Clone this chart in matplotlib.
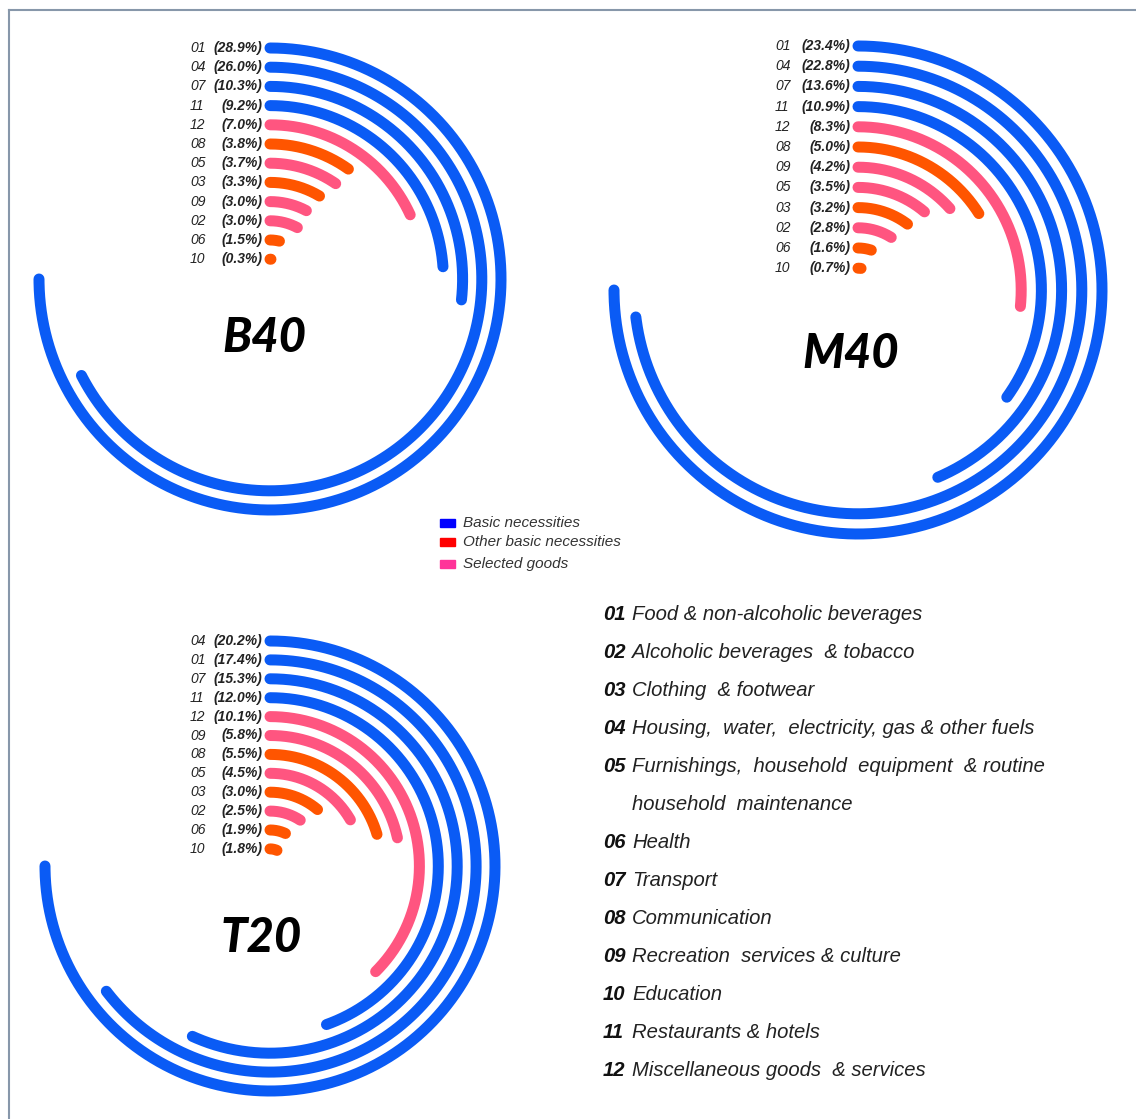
import numpy as np
import matplotlib
matplotlib.use("Agg")
import matplotlib.pyplot as plt
from matplotlib.patches import Rectangle
from matplotlib.transforms import offset_copy
from matplotlib import font_manager as fm
from matplotlib.font_manager import FontProperties

W, H = 1136, 1119

# data, ordered outer -> inner ring
b40_codes = ["01", "04", "07", "11", "12", "08", "05", "03", "09", "02", "06", "10"]
b40_vals = [28.9, 26.0, 10.3, 9.2, 7.0, 3.8, 3.7, 3.3, 3.0, 3.0, 1.5, 0.3]

m40_codes = ["01", "04", "07", "11", "12", "08", "09", "05", "03", "02", "06", "10"]
m40_vals = [23.4, 22.8, 13.6, 10.9, 8.3, 5.0, 4.2, 3.5, 3.2, 2.8, 1.6, 0.7]

t20_codes = ["04", "01", "07", "11", "12", "09", "08", "05", "03", "02", "06", "10"]
t20_vals = [20.2, 17.4, 15.3, 12.0, 10.1, 5.8, 5.5, 4.5, 3.0, 2.5, 1.9, 1.8]

# group of each category code
groups = {"01": "basic", "04": "basic", "07": "basic", "11": "basic",
          "03": "other", "06": "other", "08": "other", "10": "other",
          "02": "selected", "05": "selected", "09": "selected", "12": "selected"}
arc_colors = {"basic": "#0A5BF5", "other": "#FF5500", "selected": "#FF5580"}

legend_labels = ["Basic necessities", "Other basic necessities", "Selected goods"]
legend_colors = ["#0000FF", "#FF0000", "#FF3399"]

cat_codes = ["01", "02", "03", "04", "05", "", "06", "07", "08", "09", "10", "11", "12"]
cat_names = ["Food & non-alcoholic beverages",
             "Alcoholic beverages  & tobacco",
             "Clothing  & footwear",
             "Housing,  water,  electricity, gas & other fuels",
             "Furnishings,  household  equipment  & routine",
             "household  maintenance",
             "Health",
             "Transport",
             "Communication",
             "Recreation  services & culture",
             "Education",
             "Restaurants & hotels",
             "Miscellaneous goods  & services"]


# pick real font files, since not every family has every italic/bold face
def find_font(families, italic, min_weight, max_weight=1000):
    for fam in families:
        best = None
        for f in fm.fontManager.ttflist:
            if f.name != fam:
                continue
            if italic and f.style == "normal":
                continue
            if not italic and f.style != "normal":
                continue
            w = f.weight if isinstance(f.weight, int) else 400
            if min_weight <= w <= max_weight:
                if best is None or w > best[0]:
                    best = (w, f.fname)
        if best:
            return FontProperties(fname=best[1])
    return FontProperties(family="DejaVu Sans", style="italic",
                          weight="bold" if min_weight >= 600 else "normal")


sans = ["Liberation Sans", "Arimo", "Roboto", "Open Sans", "Lato", "Noto Sans", "DejaVu Sans"]
f_it = find_font(sans, True, 300, 500)
f_bi = find_font(sans, True, 600, 800)
f_title = find_font(["Lato", "Roboto", "Inter", "Open Sans", "Noto Sans", "Liberation Sans",
                     "DejaVu Sans"], True, 800)

fig = plt.figure(figsize=(W / 100, H / 100), dpi=100)
lw = 11 * 72 / 100


def fp(base, size):
    p = base.copy()
    p.set_size(size)
    return p


def ring_chart(codes, vals, title, cx, cy, r_out, step, code_dx, title_xy):
    R = r_out + 20
    ax = fig.add_axes([(cx - R) / W, (H - cy - R) / H, 2 * R / W, 2 * R / H],
                      projection="polar")
    ax.set_theta_zero_location("N")
    ax.set_theta_direction(-1)
    ax.set_rlim(0, R)
    ax.axis("off")
    vmax = max(vals)
    pct_tr = offset_copy(ax.transData, fig=fig, x=-8, y=0, units="dots")
    code_tr = offset_copy(ax.transData, fig=fig, x=-code_dx, y=0, units="dots")
    for i, (c, v) in enumerate(zip(codes, vals)):
        r = r_out - i * step
        th = np.linspace(0, v / vmax * 1.5 * np.pi, 300)
        ax.plot(th, np.full_like(th, r), color=arc_colors[groups[c]], lw=lw,
                solid_capstyle="round")
        ax.text(0, r, f"({v:.1f}%)", transform=pct_tr, ha="right", va="center",
                fontproperties=fp(f_bi, 10), color="#222222")
        ax.text(0, r, c, transform=code_tr, ha="left", va="center",
                fontproperties=fp(f_it, 10), color="#222222")
    fig.text(title_xy[0] / W, 1 - title_xy[1] / H, title, ha="center", va="center",
             fontproperties=fp(f_title, 34), color="black")


ring_chart(b40_codes, b40_vals, "B40", 270, 279, 231, 19.2, 80, (264, 338))
ring_chart(m40_codes, m40_vals, "M40", 858, 290, 244, 20.2, 83, (851, 354))
ring_chart(t20_codes, t20_vals, "T20", 270, 866, 225, 18.9, 80, (261, 938))

# overlay in pixel coordinates
ov = fig.add_axes([0, 0, 1, 1])
ov.set_xlim(0, W)
ov.set_ylim(H, 0)
ov.axis("off")
ov.patch.set_alpha(0)

# frame lines
ov.plot([8.5, 8.5], [9.5, H], color="#8797AA", lw=1.5)
ov.plot([8.5, W], [9.5, 9.5], color="#8797AA", lw=1.5)

# legend
for i, (lab, col) in enumerate(zip(legend_labels, legend_colors)):
    y = [523, 542, 564][i]
    ov.add_patch(Rectangle((440, y - 4), 15, 8, color=col))
    ov.text(463, y, lab, ha="left", va="center", fontproperties=fp(f_it, 11),
            color="#333333")

# category list
for i, (c, name) in enumerate(zip(cat_codes, cat_names)):
    y = 614 + i * 38
    if c:
        ov.text(603, y, c, ha="left", va="center", fontproperties=fp(f_bi, 14.6),
                color="#111111")
    ov.text(632, y, name, ha="left", va="center", fontproperties=fp(f_it, 14.6),
            color="#222222")

fig.savefig("out.png", dpi=100)
